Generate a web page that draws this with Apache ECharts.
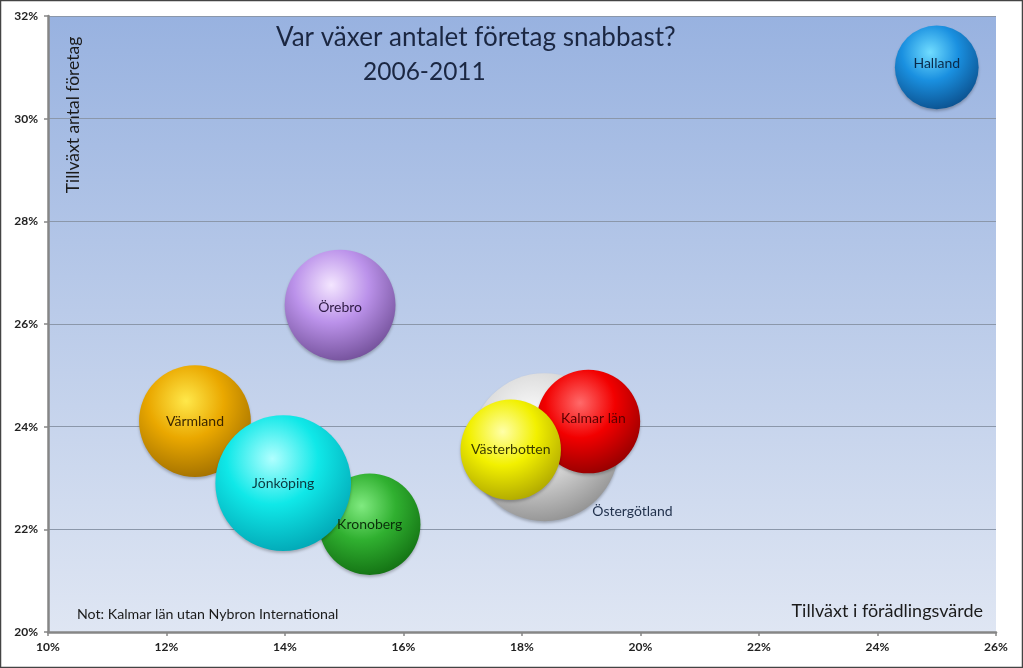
<!DOCTYPE html>
<html><head><meta charset="utf-8">
<script src="https://cdn.jsdelivr.net/npm/echarts@6/dist/echarts.min.js"></script>
<style>html,body{margin:0;padding:0;background:#fff}#c{width:1023px;height:668px}</style>
</head><body><div id="c"></div>
<script>
// Data
const regions = ['Östergötland','Kalmar län','Västerbotten','Värmland','Kronoberg','Jönköping','Örebro','Halland'];
const valueAddedGrowth = [18.38, 19.12, 17.81, 12.48, 15.43, 13.97, 14.93, 25.0]; // x, %
const firmCountGrowth  = [23.60, 24.10, 23.55, 24.11, 22.10, 22.90, 26.37, 31.0]; // y, %
const bubbleSize       = [100, 49, 46, 57, 47, 84, 56, 32];
const xTicks = [10,12,14,16,18,20,22,24,26];
const yTicks = [20,22,24,26,28,30,32];

const palette = {
  'Östergötland': ['#ffffff','#dcdcdc','#8a8a8a','#2b2b2b'],
  'Kalmar län':   ['#ff6a6a','#f20000','#8a0000','#5a0000'],
  'Västerbotten': ['#ffffa8','#f2f000','#a8a000','#3a3a00'],
  'Värmland':     ['#ffe84a','#eaa800','#9a6a00','#3a2600'],
  'Kronoberg':    ['#80ea80','#30b030','#106a10','#0a300a'],
  'Jönköping':    ['#b0ffff','#10e8e8','#00a0b0','#0a3a40'],
  'Örebro':       ['#f4e6ff','#bb92ea','#6c4a92','#2e1a44'],
  'Halland':      ['#70dcff','#1a90e0','#0a4a86','#0a2a4a']
};
const labelOffsets = {
  'Östergötland':[88,64], 'Kalmar län':[5,-3], 'Halland':[0,-4], 'Örebro':[0,2]
};

const chart = echarts.init(document.getElementById('c'));
const maxDiam = 148;
const data = regions.map((r,i)=>{
  const p = palette[r];
  return {
    name: r,
    value: [valueAddedGrowth[i], firmCountGrowth[i], bubbleSize[i]],
    itemStyle: {
      color: new echarts.graphic.RadialGradient(0.42, 0.32, 0.75, [
        {offset:0, color:p[0]},
        {offset:0.45, color:p[1]},
        {offset:1, color:p[2]}
      ])
    },
    label: {position:'inside', offset: labelOffsets[r] || [0,0],
            color: r==='Östergötland' ? '#1f2f4a' : p[3]}
  };
});

chart.setOption({
  animation:false,
  title:[
    {text:'Var växer antalet företag snabbast?', left:271, top:20,
     textStyle:{fontFamily:'Lato', fontWeight:'normal', fontSize:26, color:'#1b2742'}},
    {text:'2006-2011', left:358, top:55,
     textStyle:{fontFamily:'Lato', fontWeight:'normal', fontSize:24.5, color:'#1b2742'}}
  ],
  grid:{left:48, top:16, right:27, bottom:36, show:true, borderWidth:0,
    backgroundColor: new echarts.graphic.LinearGradient(0,0,0,1,[
      {offset:0, color:'#98b2e0'},
      {offset:1, color:'#dfe6f3'}
    ])},
  xAxis:{type:'value', min:10, max:26, interval:2,
    axisLine:{show:true, onZero:false, lineStyle:{color:'#868686', width:2.5}},
    axisTick:{show:true, length:4, lineStyle:{color:'#868686', width:1.5}},
    splitLine:{show:false},
    axisLabel:{formatter:v=>v+'%', fontFamily:'Lato', fontWeight:'bold', fontSize:12, color:'#222', margin:9},
    name:'Tillväxt i förädlingsvärde', nameLocation:'end', nameGap:0,
    nameTextStyle:{fontFamily:'Lato', fontSize:18, color:'#1b1b1b', align:'right', verticalAlign:'bottom', padding:[0,13,12,0]}
  },
  yAxis:{type:'value', min:20, max:32, interval:2,
    axisLine:{show:true, onZero:false, lineStyle:{color:'#868686', width:2.5}},
    axisTick:{show:true, length:4, lineStyle:{color:'#868686', width:1.5}},
    splitLine:{show:true, lineStyle:{color:'#8b97aa', width:1}},
    axisLabel:{formatter:v=>v+'%', fontFamily:'Lato', fontWeight:'bold', fontSize:12, color:'#222', margin:10},
  },
  graphic:[
    {type:'text', x:73, y:115, rotation:Math.PI/2, style:{text:'Tillväxt antal företag', fontFamily:'Lato', fontSize:17.5, fill:'#1b1b1b', align:'center', verticalAlign:'middle'}},
    {type:'text', x:77, y:614, style:{text:'Not: Kalmar län utan Nybron International', fontFamily:'Lato', fontSize:14.2, fill:'#1b1b1b', verticalAlign:'middle'}},
    {type:'rect', shape:{x:0.5, y:0.5, width:1022, height:667}, style:{fill:'none', stroke:'#444', lineWidth:1.5}, silent:true}
  ],
  series:[{
    type:'scatter',
    data:data,
    symbolSize: v => Math.sqrt(v[2]/100)*maxDiam,
    itemStyle:{opacity:1, shadowBlur:3, shadowColor:'rgba(0,0,0,0.25)', shadowOffsetY:2},
    label:{show:true, formatter:p=>p.name, position:'inside', fontFamily:'Lato', fontSize:14}
  }]
});
</script></body></html>
